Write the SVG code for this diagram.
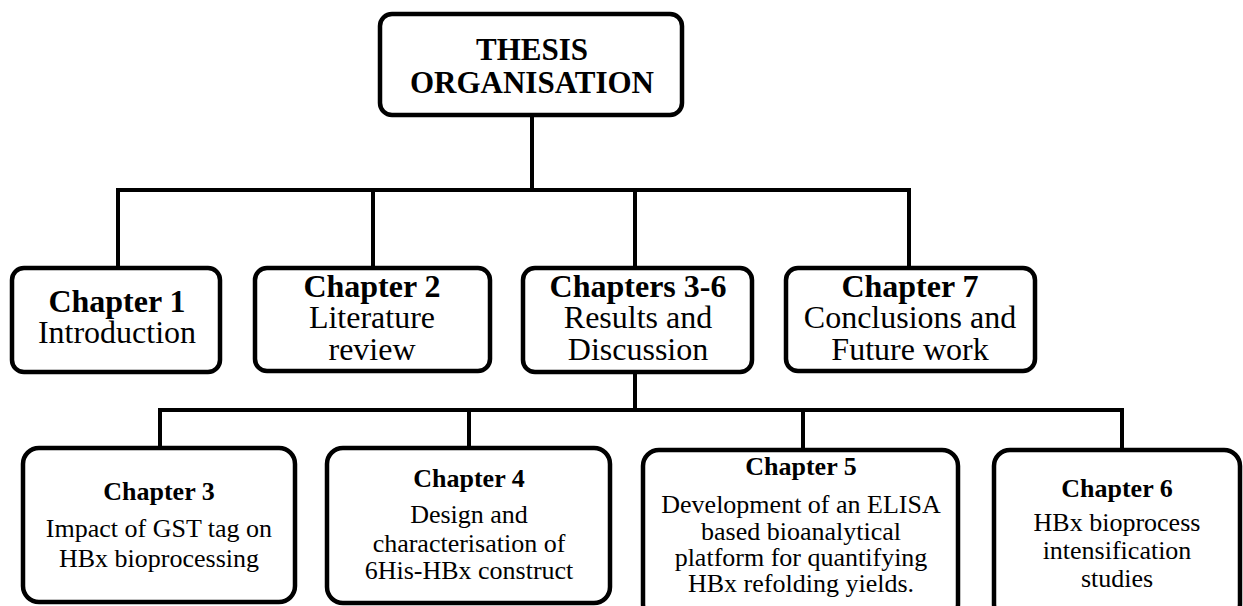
<svg xmlns="http://www.w3.org/2000/svg" width="1243" height="606" viewBox="0 0 1243 606">
<style>
.box{fill:#fff;stroke:#000;stroke-width:4.5}
.ln{fill:none;stroke:#000;stroke-width:4;stroke-linecap:square}
.t{font-size:31px;font-weight:bold}
.h{font-size:32px;font-weight:bold}
.b{font-size:32px}
.h3{font-size:26px;font-weight:bold}
.b3{font-size:26px}
</style>
<g id="connectors">
<path class="ln" d="M532 116V190M118 268V190H909V268M373 190V268M635 190V268"/>
<path class="ln" d="M635 372V410M160 448V410H1122V448M469 410V448M803 410V448"/>
</g>
<g font-family="'Liberation Serif', 'Times New Roman', serif" text-anchor="middle" fill="#000">
<g id="root">
<rect class="box" x="380" y="14" width="302" height="101" rx="12"/>
<text class="t" x="532" y="60">THESIS</text>
<text class="t" x="532" y="93">ORGANISATION</text>
</g>
<g id="ch1">
<rect class="box" x="12" y="268" width="208" height="104" rx="12"/>
<text class="h" x="117" y="312">Chapter 1</text>
<text class="b" x="117" y="343">Introduction</text>
</g>
<g id="ch2">
<rect class="box" x="255" y="268" width="235" height="103" rx="12"/>
<text class="h" x="372" y="297">Chapter 2</text>
<text class="b" x="372" y="328">Literature</text>
<text class="b" x="372" y="360">review</text>
</g>
<g id="ch36">
<rect class="box" x="523" y="268" width="229" height="104" rx="12"/>
<text class="h" x="638" y="297">Chapters 3-6</text>
<text class="b" x="638" y="328">Results and</text>
<text class="b" x="638" y="360">Discussion</text>
</g>
<g id="ch7">
<rect class="box" x="786" y="268" width="249" height="103" rx="12"/>
<text class="h" x="910" y="297">Chapter 7</text>
<text class="b" x="910" y="328">Conclusions and</text>
<text class="b" x="910" y="360">Future work</text>
</g>
<g id="ch3">
<rect class="box" x="23" y="448" width="272" height="154" rx="16"/>
<text class="h3" x="159" y="500">Chapter 3</text>
<text class="b3" x="159" y="537">Impact of GST tag on</text>
<text class="b3" x="159" y="567">HBx bioprocessing</text>
</g>
<g id="ch4">
<rect class="box" x="327" y="448" width="283" height="155" rx="16"/>
<text class="h3" x="469" y="487">Chapter 4</text>
<text class="b3" x="469" y="523">Design and</text>
<text class="b3" x="469" y="552">characterisation of</text>
<text class="b3" x="469" y="579">6His-HBx construct</text>
</g>
<g id="ch5">
<rect class="box" x="643" y="450" width="315" height="170" rx="16"/>
<text class="h3" x="801" y="475">Chapter 5</text>
<text class="b3" x="801" y="513">Development of an ELISA</text>
<text class="b3" x="801" y="540">based bioanalytical</text>
<text class="b3" x="801" y="566">platform for quantifying</text>
<text class="b3" x="801" y="592">HBx refolding yields.</text>
</g>
<g id="ch6">
<rect class="box" x="994" y="450" width="246" height="170" rx="16"/>
<text class="h3" x="1117" y="497">Chapter 6</text>
<text class="b3" x="1117" y="531">HBx bioprocess</text>
<text class="b3" x="1117" y="559">intensification</text>
<text class="b3" x="1117" y="587">studies</text>
</g>
</g>
</svg>
